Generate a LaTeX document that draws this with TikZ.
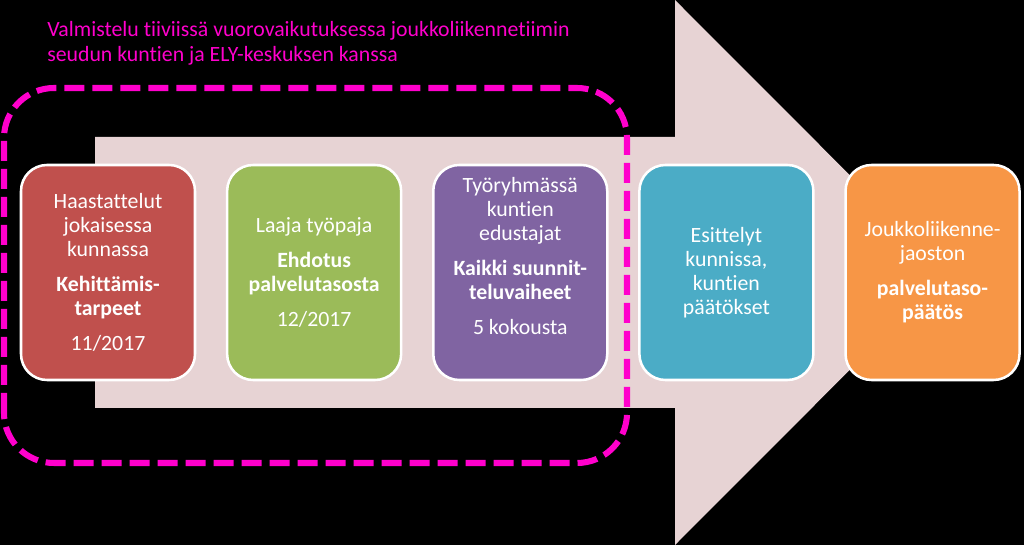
\documentclass[tikz,border=0pt]{standalone}
\usepackage{fontspec}
\setmainfont{Carlito}[Ligatures=NoCommon]
\usetikzlibrary{positioning}
\definecolor{arrowfill}{RGB}{231,211,212}
\definecolor{framemagenta}{RGB}{255,0,204}
\definecolor{redfill}{RGB}{192,80,77}
\definecolor{greenfill}{RGB}{155,187,89}
\definecolor{purplefill}{RGB}{128,100,162}
\definecolor{cyanfill}{RGB}{75,172,198}
\definecolor{orangefill}{RGB}{247,150,70}
\tikzset{
    stepbox/.style={
        rectangle, rounded corners=0.65cm, draw=white, line width=1.8pt,
        minimum width=4.35cm, minimum height=5.375cm, inner sep=0pt
    },
    boxtext/.style={
        text=white, align=center, font=\fontsize{15.5}{17}\selectfont
    },
    titletext/.style={
        text=framemagenta, align=left, inner sep=0pt,
        font=\fontsize{15.5}{18}\selectfont
    },
    groupframe/.style={
        draw=framemagenta, line width=4.3pt, rounded corners=1.25cm,
        dash pattern=on 0.5cm off 0.2cm
    }
}

\begin{document}
\begin{tikzpicture}[node distance=1cm and 0.74cm]

% Background
\fill[black] (0,0) rectangle (25.6,13.625);
\useasboundingbox (0,0) rectangle (25.6,13.625);

% Big arrow
\fill[arrowfill] (2.375,10.2) -- (16.875,10.2) -- (16.875,13.625) -- (23.675,6.8125)
    -- (16.875,0) -- (16.875,3.425) -- (2.375,3.425) -- cycle;

% Preparation frame
\draw[groupframe] (0.1,2.05) rectangle (15.675,11.425);
\node[titletext, anchor=north west] (title) at (1.175,13.1)
    {Valmistelu tiiviissä vuorovaikutuksessa joukkoliikennetiimin\\seudun kuntien ja ELY-keskuksen kanssa};

% Steps
\node[stepbox, fill=redfill] (haast) at (2.7,6.8125) {};
\node[stepbox, fill=greenfill, right=of haast] (paja) {};
\node[stepbox, fill=purplefill, right=of paja] (tyor) {};
\node[stepbox, fill=cyanfill, right=of tyor] (esit) {};
\node[stepbox, fill=orangefill, right=of esit] (jaos) {};

% Step texts
\node[boxtext] (haasttext) at (haast) {Haastattelut\\jokaisessa\\kunnassa\\[8pt]\textbf{Kehittämis-}\\\textbf{tarpeet}\\[8pt]11/2017};
\node[boxtext] (pajatext) at (paja) {Laaja työpaja\\[8pt]\textbf{Ehdotus}\\\textbf{palvelutasosta}\\[8pt]12/2017};
\node[boxtext] (tyortext) at ([yshift=0.4cm]tyor.center) {Työryhmässä\\kuntien\\edustajat\\[8pt]\textbf{Kaikki suunnit-}\\\textbf{teluvaiheet}\\[8pt]5 kokousta};
\node[boxtext] (esittext) at (esit) {Esittelyt\\kunnissa,\\kuntien\\päätökset};
\node[boxtext] (jaostext) at (jaos) {Joukkoliikenne-\\jaoston\\[8pt]\textbf{palvelutaso-}\\\textbf{päätös}};

\end{tikzpicture}
\end{document}
